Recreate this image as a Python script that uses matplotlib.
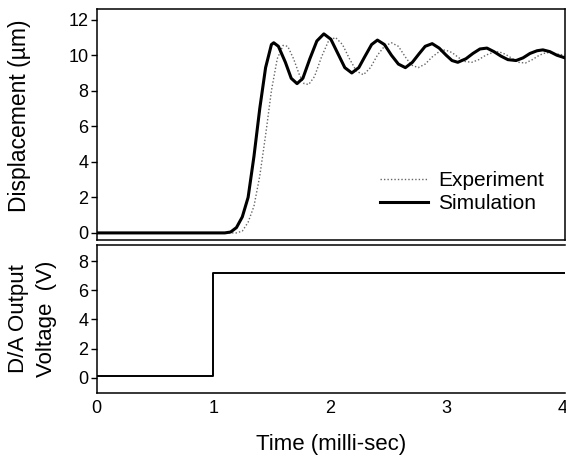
import matplotlib
matplotlib.use("Agg")
import matplotlib.pyplot as plt

plt.rcParams['font.family'] = ['Liberation Sans', 'DejaVu Sans']

# simulated displacement (um) vs time (ms)
t_sim = [0, 1.0, 1.1, 1.15, 1.2, 1.25, 1.3, 1.35, 1.4, 1.45, 1.5, 1.52, 1.56,
         1.62, 1.67, 1.72, 1.77, 1.83, 1.89, 1.95, 2.01, 2.07, 2.13, 2.19,
         2.25, 2.30, 2.36, 2.41, 2.47, 2.53, 2.59, 2.65, 2.71, 2.77, 2.82,
         2.88, 2.94, 3.0, 3.05, 3.10, 3.17, 3.23, 3.29, 3.35, 3.41, 3.47,
         3.53, 3.6, 3.66, 3.72, 3.78, 3.83, 3.89, 3.95, 4.02]
y_sim = [0, 0.0, 0.0, 0.05, 0.3, 0.9, 2.0, 4.3, 7.0, 9.3, 10.6, 10.7, 10.5,
         9.6, 8.7, 8.4, 8.7, 9.8, 10.8, 11.2, 10.9, 10.1, 9.3, 9.0,
         9.3, 9.9, 10.6, 10.85, 10.6, 10.0, 9.5, 9.3, 9.6, 10.1, 10.5,
         10.65, 10.4, 10.0, 9.7, 9.6, 9.8, 10.1, 10.35, 10.4, 10.2, 9.95,
         9.75, 9.7, 9.85, 10.1, 10.25, 10.3, 10.2, 10.0, 9.85]

# measured displacement
t_exp = [0, 1.0, 1.2, 1.25, 1.3, 1.35, 1.4, 1.45, 1.5, 1.55, 1.6, 1.64, 1.69,
         1.74, 1.78, 1.82, 1.87, 1.93, 1.99, 2.05, 2.11, 2.17, 2.23, 2.29,
         2.35, 2.41, 2.47, 2.53, 2.59, 2.65, 2.7, 2.76, 2.82, 2.88, 2.94,
         2.99, 3.05, 3.11, 3.16, 3.22, 3.28, 3.34, 3.4, 3.45, 3.51, 3.57,
         3.62, 3.68, 3.74, 3.8, 3.86, 3.92, 4.02]
y_exp = [0, 0, 0.0, 0.1, 0.6, 1.5, 3.2, 5.5, 8.0, 9.8, 10.55, 10.5, 9.8,
         8.9, 8.4, 8.35, 8.8, 9.9, 10.8, 11.0, 10.6, 9.8, 9.1, 8.9,
         9.3, 10.0, 10.5, 10.7, 10.5, 9.9, 9.45, 9.3, 9.5, 9.9, 10.2,
         10.3, 10.15, 9.85, 9.65, 9.6, 9.75, 10.0, 10.15, 10.2, 10.05, 9.8,
         9.6, 9.56, 9.75, 10.0, 10.15, 10.1, 10.0]

# D/A output voltage (step)
t_volt = [0, 1.0, 1.0, 4.02]
v_volt = [0.1, 0.1, 7.15, 7.15]

fig = plt.figure(figsize=(5.66, 4.59), dpi=100)
ax1 = fig.add_axes([0.1708, 0.4771, 0.8274, 0.5033])
ax2 = fig.add_axes([0.1708, 0.1438, 0.8274, 0.3224])

ax1.plot(t_exp, y_exp, color='#666666', lw=1.0, ls=(0, (1, 1.5)), label='Experiment')
ax1.plot(t_sim, y_sim, color='black', lw=2.2, label='Simulation')
ax1.set_xlim(0, 4.02)
ax1.set_ylim(-0.4, 12.6)
ax1.set_yticks([0, 2, 4, 6, 8, 10, 12])
ax1.set_xticks([])
ax1.set_ylabel('Displacement (\u00b5m)', fontsize=16.5)
ax1.yaxis.set_label_coords(-0.14, 0.54)
ax1.legend(loc='lower right', bbox_to_anchor=(0.978, 0.07), frameon=False,
           fontsize=15, handlelength=2.3, handletextpad=0.5,
           labelspacing=0.2, borderpad=0)

ax2.plot(t_volt, v_volt, color='black', lw=1.4)
ax2.set_xlim(0, 4.02)
ax2.set_ylim(-1.05, 9.1)
ax2.set_yticks([0, 2, 4, 6, 8])
ax2.set_xticks([0, 1, 2, 3, 4])
ax2.set_xlabel('Time (milli-sec)', fontsize=16, labelpad=12)
ax2.set_ylabel('D/A Output\nVoltage  (V)', fontsize=16, linespacing=1.4)
ax2.yaxis.set_label_coords(-0.085, 0.5)
ax2.spines['right'].set_visible(False)

for ax in (ax1, ax2):
    ax.tick_params(axis='y', direction='out', length=4, width=1, pad=2, labelsize=13)
    ax.tick_params(axis='x', direction='out', length=0, pad=5, labelsize=13)
    for s in ax.spines.values():
        s.set_linewidth(1.1)

fig.savefig('out.png', dpi=100)
